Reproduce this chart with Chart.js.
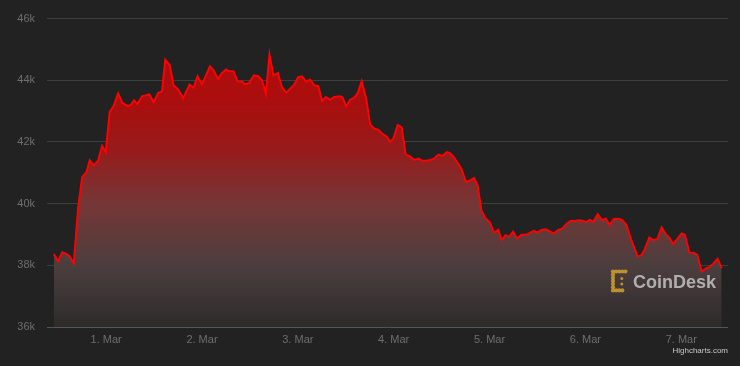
<!DOCTYPE html>
<html>
<head>
<meta charset="utf-8">
<script src="https://cdn.jsdelivr.net/npm/chart.js@4"></script>
<style>
  html, body { margin: 0; padding: 0; background: #222; }
  #wrap { width: 740px; height: 366px; }
</style>
</head>
<body>
<div id="wrap"><canvas id="btcChart" width="740" height="366"></canvas></div>
<script>
// hours counted from 1 Mar 00:00
const hours = [
  -13.1, -12.0, -11.0, -9.9, -9.1, -8.1, -7.0, -6.0, -4.9, -4.1, -3.1, -2.0, -1.0, -0.1,
  0.9, 1.9, 3.0, 4.0, 5.3, 6.1, 7.0, 7.8, 9.0, 9.9, 10.8, 11.9, 13.0, 14.0, 14.8, 15.9,
  16.9, 18.0, 19.3, 20.9, 21.9, 22.9, 24.0, 26.0, 26.9, 28.0, 29.0, 30.0, 30.9, 31.9,
  32.9, 34.0, 34.8, 35.8, 37.0, 38.1, 39.0, 40.0, 40.9, 41.9, 43.0, 44.0, 45.1, 46.1,
  47.1, 48.1, 49.1, 50.0, 51.1, 52.1, 53.1, 54.1, 55.0, 56.1, 57.1, 58.6, 59.2, 60.1,
  61.1, 62.1, 63.0, 64.0, 65.1, 66.1, 67.1, 68.2, 69.2, 70.3, 71.1, 71.9, 73.0, 74.0,
  75.0, 76.1, 77.1, 78.2, 79.2, 80.3, 81.3, 82.1, 83.2, 84.3, 85.3, 86.1, 87.1, 88.2,
  89.0, 90.1, 91.1, 92.1, 93.0, 94.0, 95.0, 96.1, 97.1, 98.2, 99.0, 100.0, 100.9, 101.9,
  102.9, 104.0, 105.1, 106.1, 107.1, 108.0, 109.0, 110.1, 111.1, 112.1, 113.2, 114.2,
  115.3, 116.3, 117.4, 118.4, 119.5, 120.3, 121.1, 122.0, 123.1, 124.1, 125.1, 126.1,
  127.1, 128.2, 129.2, 130.3, 131.4, 133.1, 134.1, 134.9, 136.0, 137.0, 138.0, 139.1,
  140.1, 141.0, 142.0, 143.1, 144.1, 144.9, 146.0, 147.2, 148.0, 149.1, 150.1, 151.0,
  152.0, 153.1, 154.1
];

// BTC price, USD
const prices = [
  38370, 38130, 38420, 38370, 38280, 38070, 39870, 40860, 41030, 41400, 41240, 41390, 41880, 41670,
  42980, 43170, 43570, 43280, 43170, 43190, 43350, 43230, 43480, 43510, 43550, 43280, 43590, 43640, 44670, 44500,
  43840, 43710, 43420, 43860, 43760, 44130, 43870, 44450, 44320, 44050, 44230, 44350, 44290, 44290,
  43970, 43960, 43870, 43910, 44160, 44130, 44000, 43570, 44830, 44160, 44240, 43780, 43600, 43730,
  43860, 44100, 44130, 43960, 44020, 43840, 43810, 43330, 43460, 43370, 43460, 43480, 43440, 43160,
  43370, 43430, 43590, 43970, 43410, 42570, 42440, 42390, 42260, 42170, 42010, 42100, 42550, 42470,
  41600, 41530, 41420, 41460, 41390, 41390, 41420, 41460, 41590, 41550, 41670, 41640, 41500, 41280,
  41120, 40700, 40750, 40830, 40600, 39760, 39530, 39390, 39060, 39150, 38820, 38980, 38930, 39090,
  38870, 38990, 38990, 39050, 39120, 39060, 39150, 39170, 39100, 39030, 39150, 39190,
  39350, 39440, 39440, 39460, 39440, 39410, 39470, 39410, 39660, 39470, 39510, 39310,
  39500, 39510, 39470, 39300, 38850, 38280, 38340, 38530, 38900, 38820, 38850, 39230,
  39010, 38900, 38690, 38870, 39030, 38990, 38420, 38400, 38340, 37800, 37890, 37940,
  38050, 38210, 37910
];

// x axis day ticks
const tickHours = [0, 24, 48, 72, 96, 120, 144];
const tickLabels = ['1. Mar', '2. Mar', '3. Mar', '4. Mar', '5. Mar', '6. Mar', '7. Mar'];

const points = hours.map((h, i) => ({ x: h, y: prices[i] }));

// red-to-grey area fill
function area_gradient(context) {
  const chart = context.chart;
  const area = chart.chartArea;
  if (!area) return 'rgba(160,20,20,0.8)';
  const g = chart.ctx.createLinearGradient(0, area.top, 0, area.bottom);
  g.addColorStop(0.0, 'rgb(182,10,10)');
  g.addColorStop(0.27, 'rgb(170,14,14)');
  g.addColorStop(0.42, 'rgb(152,26,26)');
  g.addColorStop(0.6, 'rgb(118,54,54)');
  g.addColorStop(0.8, 'rgb(76,62,62)');
  g.addColorStop(1.0, 'rgb(46,43,43)');
  return g;
}

// background, watermark and credit
const decorations = {
  id: 'decorations',
  beforeDraw(chart) {
    const c = chart.ctx;
    c.save();
    c.fillStyle = '#222222';
    c.fillRect(0, 0, chart.width, chart.height);
    c.restore();
  },
  afterDatasetsDraw(chart) {
    const c = chart.ctx;
    c.save();
    // logo mark
    c.fillStyle = 'rgba(200,155,45,0.9)';
    const dot = (x, y, r) => { c.beginPath(); c.arc(x, y, r, 0, Math.PI * 2); c.fill(); };
    for (let i = 0; i <= 6; i++) dot(613, 271.5 + i * 3.15, 2.1);
    for (let i = 1; i <= 4; i++) dot(613 + i * 3.1, 271.5, 2.1);
    for (let i = 1; i <= 3; i++) dot(613 + i * 3.1, 290.4, 2.1);
    dot(621.8, 278.5, 1.5);
    dot(621.8, 284, 1.5);
    // logo text
    c.fillStyle = 'rgba(195,195,195,0.85)';
    c.font = 'bold 18px "Liberation Sans", Arial, sans-serif';
    c.textBaseline = 'alphabetic';
    c.textAlign = 'left';
    c.fillText('CoinDesk', 633, 288);
    c.restore();
  },
  afterDraw(chart) {
    const c = chart.ctx;
    c.save();
    c.fillStyle = '#c8c8c8';
    c.font = '8px "Liberation Sans", Arial, sans-serif';
    c.textAlign = 'right';
    c.textBaseline = 'middle';
    c.fillText('Highcharts.com', 728, 351);
    c.restore();
  }
};

const config = {
  type: 'line',
  data: {
    datasets: [{
      data: points,
      borderColor: '#ff0000',
      borderWidth: 2,
      pointRadius: 0,
      tension: 0,
      fill: 'start',
      backgroundColor: area_gradient
    }]
  },
  options: {
    responsive: false,
    animation: false,
    layout: { padding: { left: 0, right: 12, top: 11.4, bottom: 0 } },
    plugins: {
      legend: { display: false },
      tooltip: { enabled: false }
    },
    scales: {
      x: {
        type: 'linear',
        min: -14.8,
        max: 155.7,
        afterFit: (s) => { s.height = 39; },
        afterBuildTicks: (s) => { s.ticks = tickHours.map(v => ({ value: v })); },
        grid: { display: false, drawTicks: false },
        border: { display: false },
        ticks: {
          padding: 6,
          color: '#6e6e6e',
          font: { family: '"Liberation Sans", Arial, sans-serif', size: 11 },
          maxRotation: 0,
          autoSkip: false,
          callback: (v) => tickLabels[tickHours.indexOf(v)] || ''
        }
      },
      y: {
        min: 36000,
        max: 46000,
        afterFit: (s) => { s.width = 47; },
        grid: {
          drawTicks: false,
          lineWidth: 1,
          color: (ctx) => (ctx.tick && ctx.tick.value === 36000 ? '#555555' : '#3e3e3e')
        },
        border: { display: false },
        ticks: {
          stepSize: 2000,
          padding: 12,
          color: '#6e6e6e',
          font: { family: '"Liberation Sans", Arial, sans-serif', size: 11 },
          callback: (v) => (v / 1000) + 'k'
        }
      }
    }
  },
  plugins: [decorations]
};

const btcChart = new Chart('btcChart', config);
</script>
</body>
</html>
